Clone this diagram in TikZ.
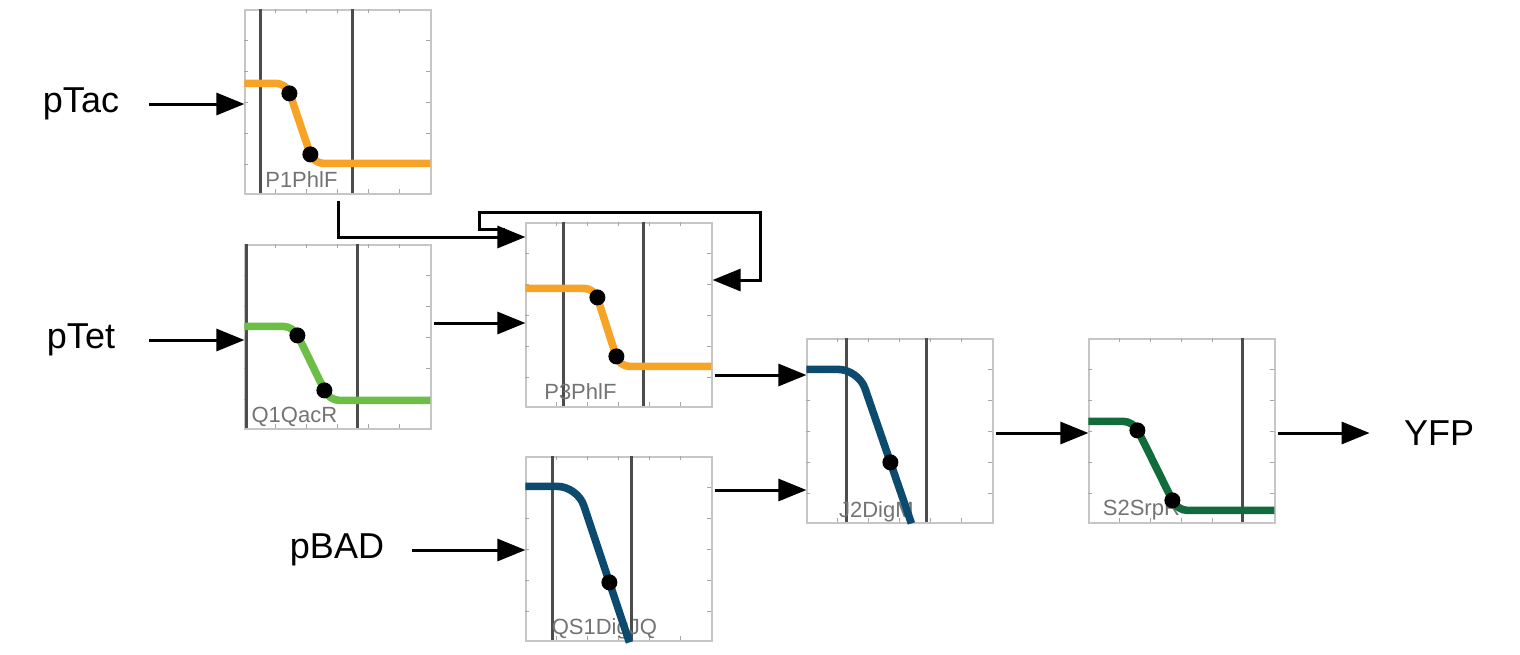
\documentclass[tikz,border=0pt]{standalone}
\usepackage{fontspec}
\setmainfont{Liberation Sans}
\usetikzlibrary{arrows.meta}
\definecolor{curveorange}{RGB}{247,163,38}
\definecolor{curvegreen}{RGB}{108,190,69}
\definecolor{curveblue}{RGB}{12,74,110}
\definecolor{curvedkgreen}{RGB}{18,107,58}
% small marks round the inside of a panel frame
\newcommand{\panelticks}{%
\foreach \t in {31,62,...,155} {
\draw[tickmark] (0,\t) -- (4,\t);
\draw[tickmark] (186,\t) -- (182,\t);
\draw[tickmark] (\t,0) -- (\t,4);
\draw[tickmark] (\t,184) -- (\t,180);
}}
\begin{document}
\begin{tikzpicture}[x=0.5pt, y=-0.5pt,
panel/.style={draw=gray!45, line width=0.6pt, minimum width=93pt, minimum height=92pt, inner sep=0pt},
tickmark/.style={gray!70, line width=0.7pt},
vline/.style={black!70, line width=1.2pt},
sig/.style={line width=3.8pt, rounded corners=5pt},
tag/.style={black!55, font=\fontsize{11}{13}\selectfont, inner sep=0pt},
io/.style={font=\fontsize{18}{21}\selectfont, inner sep=0pt},
arr/.style={-{Triangle[length=14pt,width=11pt]}, line width=1.5pt}]
\useasboundingbox (0,0) rectangle (1520,654);
% promoters and output
\node[io] (ptac) at (81,104) {pTac};
\node[io] (ptet) at (81,340) {pTet};
\node[io] (pbad) at (337,550) {pBAD};
\node[io] (yfp) at (1439,433) {YFP};
% gate panels
\node[panel] (p1) at (338,102) {};
\node[panel] (q1) at (338,337) {};
\node[panel] (p3) at (619,315) {};
\node[panel] (qs1) at (619,549) {};
\node[panel] (j2) at (900,431) {};
\node[panel] (s2) at (1182,431) {};
% P1PhlF
\begin{scope}[shift={(p1.north west)}]
\panelticks
\draw[vline] (16,0) -- (16,184);
\draw[vline] (108,0) -- (108,184);
\node[tag] at (57,170) {P1PhlF};
\draw[sig, curveorange] (0,74) -- (42,74) -- (69,154) -- (186,154);
\fill (45,84) circle (4pt);
\fill (66,145) circle (4pt);
\end{scope}
% Q1QacR
\begin{scope}[shift={(q1.north west)}]
\panelticks
\draw[vline] (2,0) -- (2,184);
\draw[vline] (113,0) -- (113,184);
\node[tag] at (50,172) {Q1QacR};
\draw[sig, curvegreen] (0,82) -- (49,82) -- (85,156) -- (186,156);
\fill (53,91) circle (4pt);
\fill (80,146) circle (4pt);
\end{scope}
% P3PhlF
\begin{scope}[shift={(p3.north west)}]
\panelticks
\draw[vline] (38,0) -- (38,184);
\draw[vline] (118,0) -- (118,184);
\node[tag] at (55,169) {P3PhlF};
\draw[sig, curveorange] (0,66) -- (69,66) -- (94,144) -- (186,144);
\fill (72,75) circle (4pt);
\fill (91,134) circle (4pt);
\end{scope}
% QS1DigJQ
\begin{scope}[shift={(qs1.north west)}]
\panelticks
\draw[vline] (27,0) -- (27,184);
\draw[vline] (106,0) -- (106,184);
\node[tag] at (79,172) {QS1DigJQ};
\draw[sig, curveblue, rounded corners=10pt] (0,30) -- (52,30) -- (104,186);
\fill (84,126) circle (4pt);
\end{scope}
% J2DigM
\begin{scope}[shift={(j2.north west)}]
\panelticks
\draw[vline] (40,0) -- (40,184);
\draw[vline] (120,0) -- (120,184);
\node[tag] at (70,173) {J2DigM};
\draw[sig, curveblue, rounded corners=10pt] (0,31) -- (52,31) -- (105,185);
\fill (84,124) circle (4pt);
\end{scope}
% S2SrpR
\begin{scope}[shift={(s2.north west)}]
\panelticks
\draw[vline] (154,0) -- (154,184);
\node[tag] at (53,172) {S2SrpR};
\draw[sig, curvedkgreen] (0,83) -- (45,83) -- (89,172) -- (186,172);
\fill (49,92) circle (4pt);
\fill (84,162) circle (4pt);
\end{scope}
% wiring
\coordinate (fb) at (505,229);
\draw[arr] (fb) -| (479,212) -| (760,280) -- (p3.east |- 0,280);
\draw[arr, shorten <=15pt] (ptac.east) -- (p1.west |- ptac.east);
\draw[arr, shorten <=17pt] (ptet.east) -- (q1.west |- ptet.east);
\draw[arr, shorten <=14pt] (pbad.east) -- (qs1.west |- pbad.east);
\draw[arr, shorten <=3pt] (p1.south) |- (p3.west |- 0,237);
\draw[arr, shorten <=1pt] (q1.east |- 0,323) -- (p3.west |- 0,323);
\draw[arr, shorten <=1pt] (p3.east |- 0,375) -- (j2.west |- 0,375);
\draw[arr, shorten <=1pt] (qs1.east |- 0,490) -- (j2.west |- 0,490);
\draw[arr, shorten <=1pt] (j2.east |- 0,433) -- (s2.west |- 0,433);
\draw[arr, shorten <=1pt, shorten >=17pt] (s2.east |- 0,433) -- (yfp.west);
\end{tikzpicture}
\end{document}
